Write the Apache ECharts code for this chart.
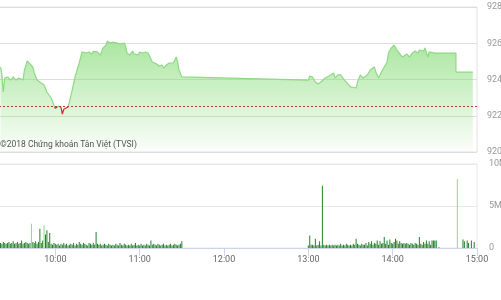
<!DOCTYPE html>
<html><head><meta charset="utf-8">
<script src="https://cdn.jsdelivr.net/npm/echarts@6/dist/echarts.min.js"></script>
<style>html,body{margin:0;padding:0;background:#fff}#c{width:501px;height:300px}</style>
</head><body><div id="c"></div>
<script>
// ---- data ----
const priceTimes = ["9:21","9:22","9:23","9:24","9:26","9:28","9:30","9:32","9:34","9:37","9:38","9:40","9:44","9:45","9:47","9:49","9:52","9:54","9:57","9:59",
"10:00","10:02","10:03","10:04","10:05","10:06","10:07","10:09","10:10","10:12","10:14","10:17","10:19","10:20","10:22","10:24","10:26","10:27","10:30","10:32","10:34","10:36","10:37","10:39","10:41","10:42","10:44","10:46","10:49","10:50","10:51","10:53","10:55","10:56","10:59",
"11:00","11:02","11:04","11:06","11:07","11:09","11:10","11:12","11:14","11:16","11:17","11:19","11:21","11:24","11:25","11:26","11:27","11:28","11:30",
"13:00","13:01","13:03","13:05","13:07","13:09","13:12","13:16","13:18","13:19","13:21","13:23","13:25","13:27","13:30","13:34","13:35","13:37","13:39","13:40","13:42","13:44","13:47","13:48","13:50","13:52","13:54","13:56","13:57","13:59",
"14:01","14:02","14:04","14:05","14:07","14:08","14:10","14:12","14:14","14:16","14:18","14:19","14:22","14:23","14:24","14:25","14:26","14:27","14:30","14:45","14:45","14:57"];
const priceValues = [924.70,924.25,923.31,924.08,924.14,923.97,924.14,923.97,924.08,923.97,924.52,925.02,924.69,924.36,923.97,923.86,923.70,923.31,922.98,922.59,
922.42,922.53,922.42,922.48,922.09,922.36,922.31,922.48,922.75,923.42,924.14,924.91,925.52,925.63,925.46,925.52,925.41,925.55,925.52,925.35,925.74,925.90,926.12,926.01,926.07,926.01,926.01,925.96,926.01,925.85,925.46,925.35,925.57,925.41,925.35,
925.52,925.46,925.52,925.46,925.35,924.97,924.91,924.86,924.75,924.80,924.63,924.80,924.91,924.91,925.08,925.24,924.97,924.52,924.14,
923.97,924.19,924.14,923.86,923.75,923.86,924.08,924.25,924.36,924.08,924.25,924.25,924.03,923.86,923.59,923.53,923.86,924.25,924.08,924.14,924.25,924.52,924.69,924.41,924.08,924.41,924.69,924.97,925.46,925.74,
925.90,925.79,925.52,925.41,925.24,925.19,925.41,925.24,925.46,925.57,925.46,925.63,925.57,925.74,925.79,925.24,925.52,925.46,925.46,925.46,924.41,924.41];
const refPrice = 922.5;

// volume in millions, one value per minute
const morningStart = "9:21";
const morningVolumes = [0.6,0.5,0.7,0.6,0.5,0.6,0.7,0.5,0.6,0.8,
0.5,0.6,0.7,0.5,0.6,0.9,0.5,0.6,0.7,0.6,
0.5,0.6,2.9,0.7,0.6,0.8,0.5,0.7,2.3,0.6,
0.9,2.7,1.6,2.1,0.7,1.8,0.5,0.4,0.6,0.5,
0.4,0.5,0.3,0.5,0.4,0.6,0.4,0.5,0.3,0.4,
0.5,0.4,0.6,0.3,0.5,0.4,0.7,0.5,0.4,0.6,
0.5,0.4,0.3,0.6,0.5,0.4,0.6,0.4,1.9,0.5,
0.4,0.5,0.3,0.4,0.5,0.4,0.3,0.5,0.4,0.3,
0.4,0.3,0.5,0.4,0.3,0.6,0.4,0.3,0.5,0.4,
0.3,0.4,0.3,0.5,0.3,0.4,0.6,0.3,0.4,0.3,
0.5,0.3,0.4,0.3,0.5,0.4,0.3,0.9,0.4,0.5,
0.4,0.3,0.5,0.4,0.3,0.4,0.5,0.3,0.4,0.3,
0.4,0.5,0.3,0.4,0.5,0.4,0.3,0.4,0.5,0.8];
const afternoonStart = "13:00";
const afternoonVolumes = [0.3,1.5,0.4,0.4,0.3,1.1,0.3,0.4,0.8,0.3,
7.4,0.4,0.3,0.4,0.3,0.4,0.3,0.4,0.3,0.4,
0.3,0.4,0.3,0.5,0.3,0.4,0.3,0.5,0.4,0.3,
0.4,0.3,0.5,0.4,1.1,0.5,0.4,0.3,0.5,0.4,
0.4,0.6,0.3,0.7,0.5,0.8,0.4,0.6,0.5,0.9,
0.4,0.8,0.5,0.6,1.3,0.5,0.9,0.4,1.0,0.6,
0.5,0.7,1.1,0.9,0.5,0.8,0.6,0.5,0.6,0.5,
0.6,0.5,0.4,0.6,0.5,0.4,0.6,0.5,0.4,1.3,
0.5,0.4,0.7,0.5,0.9,0.5,0.8,0.4,0.9,0.9,
0.9];
const extraVolTimes = ["14:31","14:33","14:46","14:50","14:51","14:53","14:54","14:56","14:58"];
const extraVolumes = [0.9,0.1,8.2,1.0,0.8,0.9,0.6,0.9,0.7];
const lightBarTimes = ["9:43","9:52","14:46"];

const priceTicks = [920,922,924,926,928];
const volumeTicks = ["0","5M","10M"];
const timeLabels = ["10:00","11:00","12:00","13:00","14:00","15:00"];

// ---- helpers ----
const toMin = s => { const p = s.split(':').map(Number); return p[0]*60 + p[1]; };
const fmtTime = v => { const h = Math.floor(v/60), m = v%60; return h + ':' + (m<10?'0':'') + m; };

const priceData = priceTimes.map((t,i)=>[toMin(t), priceValues[i]]);
const volData = [];
morningVolumes.forEach((v,i)=>volData.push([toMin(morningStart)+i, v]));
afternoonVolumes.forEach((v,i)=>volData.push([toMin(afternoonStart)+i, v]));
extraVolTimes.forEach((t,i)=>volData.push([toMin(t), extraVolumes[i]]));
const lightSet = new Set(lightBarTimes.map(toMin));
const timeLabelSet = new Set(timeLabels);

const font = 'Roboto';
const chart = echarts.init(document.getElementById('c'), null, {renderer:'canvas'});
chart.setOption({
  animation:false,
  textStyle:{fontFamily:font},
  grid:[
    {left:-29, right:24, top:7, height:145, show:true, borderColor:'#e2e2e2', borderWidth:1, outerBoundsMode:'none', containLabel:false},
    {left:-29, right:24, top:164, height:84, show:true, borderColor:'#e8e8e8', borderWidth:1, outerBoundsMode:'none', containLabel:false}
  ],
  xAxis:[
    {type:'value', gridIndex:0, min:540, max:900, interval:60,
     axisLine:{show:false}, axisTick:{show:false}, axisLabel:{show:false}, splitLine:{show:false}},
    {type:'value', gridIndex:1, min:540, max:900, interval:60,
     axisLine:{show:true, lineStyle:{color:'#ccd6eb'}},
     axisTick:{show:true, length:8, lineStyle:{color:'#ccd6eb'}},
     axisLabel:{fontSize:9, color:'#666', margin:7, fontFamily:font,
       formatter:v=>{const s=fmtTime(v); return timeLabelSet.has(s)?s:'';}},
     splitLine:{show:false}}
  ],
  yAxis:[
    {type:'value', gridIndex:0, position:'right', min:priceTicks[0], max:priceTicks[priceTicks.length-1], interval:priceTicks[1]-priceTicks[0],
     axisLine:{show:false}, axisTick:{show:false},
     axisLabel:{fontSize:9, color:'#999', margin:10, fontFamily:font},
     splitLine:{lineStyle:{color:'#dedede'}}},
    {type:'value', gridIndex:1, position:'right', min:0, max:10, interval:5,
     axisLine:{show:false}, axisTick:{show:false},
     axisLabel:{fontSize:9, color:'#999', margin:12, fontFamily:font,
       formatter:v=>volumeTicks[Math.round(v/5)]},
     splitLine:{lineStyle:{color:'#e8e8e8'}}}
  ],
  visualMap:{show:false, type:'piecewise', seriesIndex:0, dimension:1,
    pieces:[{min:900, max:refPrice, color:'#d42a2a'},{min:refPrice, max:950, color:'#8fd985'}]},
  graphic:[{type:'text', left:0, top:140, z:100,
    style:{text:'©2018 Chứng khoán Tân Việt (TVSI)', fontSize:8.5, fill:'#555', fontFamily:font}}],
  series:[
    {type:'line', xAxisIndex:0, yAxisIndex:0, data:priceData, showSymbol:false,
     lineStyle:{width:1.2},
     areaStyle:{origin:'start', color:new echarts.graphic.LinearGradient(0,0,0,1,[
       {offset:0, color:'rgba(128,218,112,0.95)'},
       {offset:0.5, color:'rgba(128,218,112,0.5)'},
       {offset:1, color:'rgba(128,218,112,0.04)'}])},
     markLine:{silent:true, symbol:'none', label:{show:false},
       lineStyle:{color:'#c0392b', type:[2,2], width:1},
       data:[{yAxis:refPrice}]}},
    {type:'bar', xAxisIndex:1, yAxisIndex:1, data:volData, barWidth:1,
     itemStyle:{color:p=>lightSet.has(p.data[0])?'#8fd68a':'#23802a'}}
  ]
});
</script></body></html>
